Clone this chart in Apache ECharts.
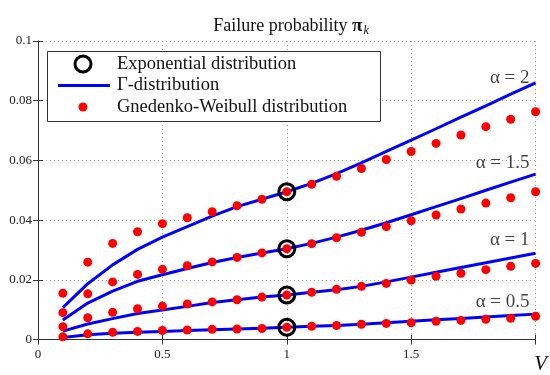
<!DOCTYPE html>
<html>
<head>
<meta charset="utf-8">
<script src="https://cdn.jsdelivr.net/npm/echarts@6/dist/echarts.min.js"></script>
<style>html,body{margin:0;padding:0;background:#fff}#c{width:550px;height:375px}</style>
</head>
<body>
<div id="c"></div>
<script>
// ---- data ----
const xValues = [0.1,0.2,0.3,0.4,0.5,0.6,0.7,0.8,0.9,1.0,1.1,1.2,1.3,1.4,1.5,1.6,1.7,1.8,1.9,2.0];
const alphaLabels = ['α = 2', 'α = 1.5', 'α = 1', 'α = 0.5'];

// Γ-distribution curves
const gamma2  = [0.0107,0.0187,0.0250,0.0302,0.0343,0.0378,0.0413,0.0445,0.0470,0.0495,0.0523,0.0556,0.0592,0.0630,0.0668,0.0706,0.0745,0.0783,0.0822,0.0860];
const gamma15 = [0.0065,0.0122,0.0162,0.0195,0.0217,0.0238,0.0258,0.0275,0.0290,0.0304,0.0322,0.0343,0.0366,0.0391,0.0418,0.0445,0.0472,0.0500,0.0527,0.0554];
const gamma1  = [0.0028,0.0052,0.0070,0.0087,0.0099,0.0111,0.0124,0.0133,0.0142,0.0149,0.0158,0.0167,0.0178,0.0193,0.0209,0.0225,0.0241,0.0257,0.0273,0.0289];
const gamma05 = [0.0007,0.0016,0.0021,0.0024,0.0027,0.0030,0.0033,0.0035,0.0038,0.0041,0.0044,0.0047,0.0051,0.0056,0.0061,0.0066,0.0070,0.0075,0.0080,0.0085];

// Gnedenko-Weibull points
const gw2  = [0.0155,0.0259,0.0322,0.0361,0.0388,0.0408,0.0428,0.0448,0.0470,0.0495,0.0520,0.0547,0.0573,0.0603,0.0630,0.0657,0.0685,0.0713,0.0738,0.0763];
const gw15 = [0.0090,0.0153,0.0193,0.0218,0.0235,0.0247,0.0260,0.0275,0.0290,0.0304,0.0321,0.0341,0.0359,0.0378,0.0398,0.0417,0.0437,0.0457,0.0475,0.0495];
const gw1  = [0.0043,0.0073,0.0091,0.0103,0.0112,0.0119,0.0126,0.0133,0.0142,0.0149,0.0158,0.0168,0.0178,0.0188,0.0199,0.0212,0.0222,0.0234,0.0245,0.0255];
const gw05 = [0.0009,0.0019,0.0024,0.0027,0.0030,0.0032,0.0034,0.0035,0.0037,0.0041,0.0044,0.0047,0.0051,0.0054,0.0056,0.0061,0.0064,0.0068,0.0071,0.0078];

// Exponential distribution (at V = 1)
const expX = [1, 1, 1, 1];
const expValues = [0.0495, 0.0304, 0.0149, 0.0041];

const xTicks = [0, 0.5, 1, 1.5];
const yTicks = ['0', '0.02', '0.04', '0.06', '0.08', '0.1'];
const legendNames = ['Exponential distribution', 'Γ-distribution', 'Gnedenko-Weibull distribution'];

// ---- chart ----
const SERIF = 'Liberation Serif';
const [NAME_EXP, NAME_GAM, NAME_GW] = legendNames;

const gammaSets = [gamma2, gamma15, gamma1, gamma05];
const gwSets = [gw2, gw15, gw1, gw05];
const labelOffsets = [[-6, -5], [-6, -11], [-6, -13], [-6, -12.5]];

const zip = (xs, ys) => xs.map((x, i) => [x, ys[i]]);

const series = [];
gammaSets.forEach(g => series.push({
  type: 'line', name: NAME_GAM, data: zip(xValues, g), symbol: 'none',
  lineStyle: { color: '#0000ff', width: 3, join: 'round' }, itemStyle: { color: '#0000ff' }, z: 2, silent: true
}));
gwSets.forEach(g => series.push({
  type: 'scatter', name: NAME_GW, data: zip(xValues, g), symbol: 'circle', symbolSize: 9,
  itemStyle: { color: '#ff0000', opacity: 1 }, z: 3, silent: true
}));
series.push({
  type: 'scatter', name: NAME_EXP, data: zip(expX, expValues), symbol: 'circle', symbolSize: 16,
  itemStyle: { color: 'rgba(0,0,0,0)', borderColor: '#000', borderWidth: 3, opacity: 1 }, z: 4, silent: true
});
// alpha labels anchored at end of each Γ curve
series.push({
  type: 'scatter', name: 'labels', symbolSize: 0, silent: true, z: 5,
  data: gammaSets.map((g, i) => ({
    value: [xValues[xValues.length - 1], g[g.length - 1]],
    label: { show: true, position: 'left', distance: 0, offset: labelOffsets[i],
      formatter: alphaLabels[i], fontFamily: SERIF, fontSize: 19, color: '#111' }
  }))
});

const fmtY = v => { const s = yTicks.find(t => Math.abs(parseFloat(t) - v) < 1e-9); return s === undefined ? '' : s; };
const fmtX = v => (xTicks.indexOf(v) >= 0 ? String(v) : '');

const axisCommon = {
  axisLine: { show: true, lineStyle: { color: '#333', width: 1 } },
  axisTick: { show: true, inside: true, length: 5, lineStyle: { color: '#333' } }
};

const legendText = (txt, cy) => ({
  type: 'text', left: 117, top: cy - 10, z: 11, silent: true,
  style: { text: txt, fontFamily: SERIF, fontSize: 18.5, fill: '#111', lineHeight: 20, height: 20, verticalAlign: 'top' }
});

const option = {
  animation: false,
  backgroundColor: '#fff',
  title: {
    text: 'Failure probability {pi|π}{k|k}',
    left: 286, top: 11, textAlign: 'center',
    textStyle: { fontFamily: SERIF, fontSize: 18, fontWeight: 'normal', color: '#111',
      rich: {
        pi: { fontFamily: SERIF, fontSize: 19, fontWeight: 'bold', color: '#111' },
        k: { fontFamily: SERIF, fontSize: 12, fontStyle: 'italic', color: '#111', padding: [9, 0, 0, 1] }
      } }
  },
  grid: { left: 38, right: 14, top: 41, bottom: 35.5 },
  xAxis: [
    Object.assign({}, axisCommon, {
      type: 'value', min: 0, max: 2, interval: 0.5, position: 'bottom',
      axisLabel: { formatter: fmtX, fontFamily: SERIF, fontSize: 13, color: '#222', margin: 9 },
      splitLine: { show: true, lineStyle: { color: '#aaa', type: [1, 3], width: 1 } },
      name: 'V', nameLocation: 'end', nameGap: 5,
      nameTextStyle: { fontFamily: SERIF, fontStyle: 'italic', fontSize: 21, color: '#111',
        align: 'center', verticalAlign: 'top', padding: [14, 0, 0, 0] }
    }),
    Object.assign({}, axisCommon, {
      type: 'value', min: 0, max: 2, interval: 0.5, position: 'top',
      axisLabel: { show: false }, splitLine: { show: false }
    })
  ],
  yAxis: [
    Object.assign({}, axisCommon, {
      type: 'value', min: 0, max: 0.1, interval: 0.02, position: 'left',
      axisLabel: { formatter: fmtY, fontFamily: SERIF, fontSize: 13, color: '#222', margin: 6 },
      splitLine: { show: true, lineStyle: { color: '#aaa', type: [1, 3], width: 1 } }
    }),
    Object.assign({}, axisCommon, {
      type: 'value', min: 0, max: 0.1, interval: 0.02, position: 'right',
      axisLabel: { show: false }, splitLine: { show: false }
    })
  ],
  graphic: [
    { type: 'rect', left: 47, top: 51, z: 10, silent: true,
      shape: { width: 333, height: 70 },
      style: { fill: '#fff', stroke: '#333', lineWidth: 1 } },
    { type: 'circle', z: 11, silent: true, shape: { cx: 83, cy: 64, r: 8 },
      style: { fill: 'none', stroke: '#000', lineWidth: 3 } },
    { type: 'line', z: 11, silent: true, shape: { x1: 58, y1: 85.5, x2: 110, y2: 85.5 },
      style: { stroke: '#0000ff', lineWidth: 3 } },
    { type: 'circle', z: 11, silent: true, shape: { cx: 83, cy: 107, r: 4.5 },
      style: { fill: '#ff0000' } },
    legendText(NAME_EXP, 64),
    legendText(NAME_GAM, 85),
    legendText(NAME_GW, 107)
  ],
  series: series
};

const chart = echarts.init(document.getElementById('c'), null, { renderer: 'canvas' });
chart.setOption(option);
</script>
</body>
</html>
